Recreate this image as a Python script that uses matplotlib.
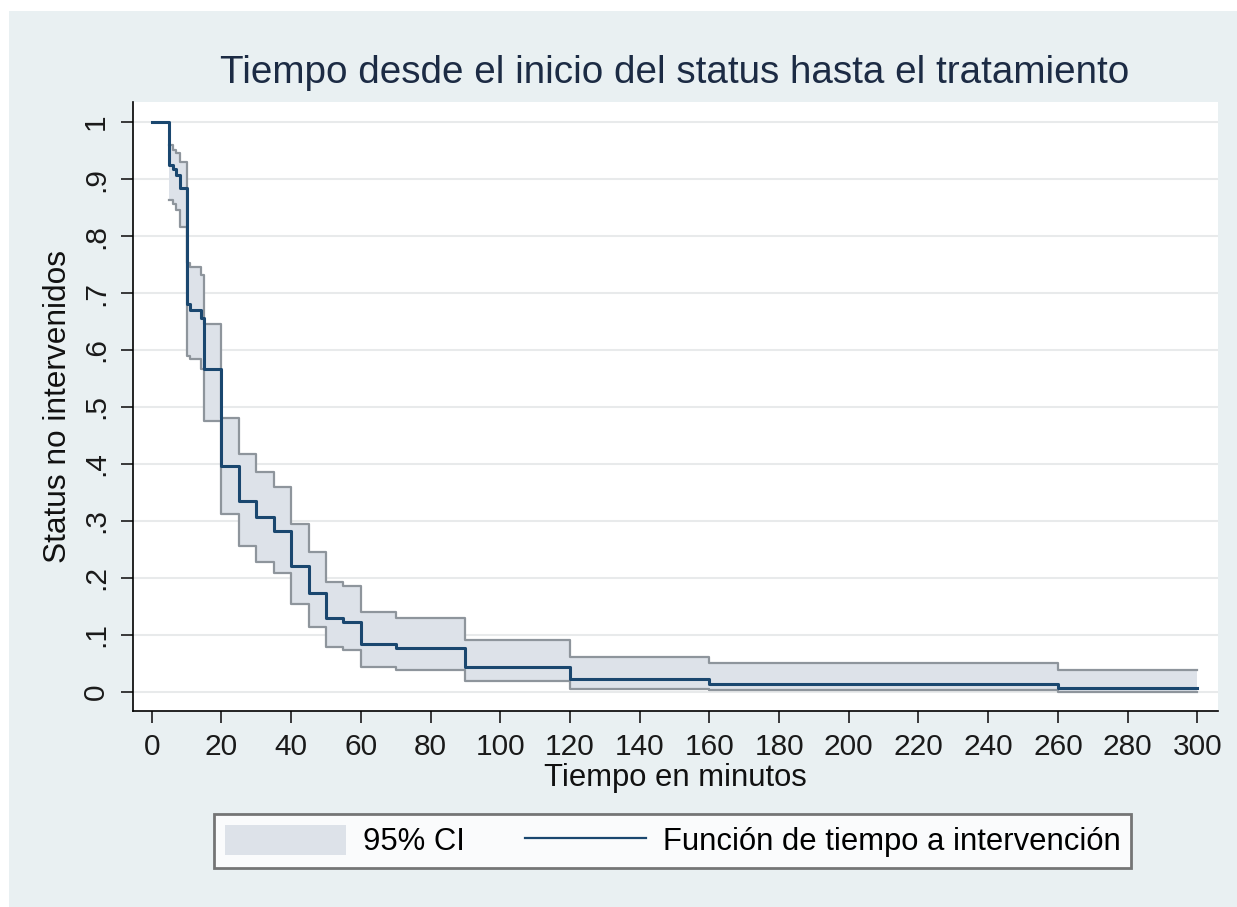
import numpy as np
import matplotlib
matplotlib.use('Agg')
import matplotlib.pyplot as plt
from matplotlib.patches import Patch, Rectangle
from matplotlib.lines import Line2D

plt.rcParams['font.family'] = ['Liberation Sans', 'DejaVu Sans']

# Kaplan-Meier: tiempo (min) y supervivencia estimada
tiempo = [0, 5, 6, 7, 8, 10, 11, 14, 15, 20, 25, 30, 35, 40, 45, 50, 55, 60, 70, 90, 120, 160, 260, 300]
superv = [1.0, 0.924, 0.918, 0.908, 0.885, 0.680, 0.671, 0.656, 0.566, 0.397, 0.334, 0.306, 0.282,
          0.221, 0.174, 0.129, 0.122, 0.083, 0.076, 0.044, 0.022, 0.014, 0.006, 0.006]

# intervalo de confianza 95% (empieza en t=5)
t_ic = [5, 6, 7, 8, 10, 11, 14, 15, 20, 25, 30, 35, 40, 45, 50, 55, 60, 70, 90, 120, 160, 260, 300]
ic_sup = [0.960, 0.952, 0.945, 0.930, 0.752, 0.746, 0.731, 0.645, 0.480, 0.417, 0.385, 0.360, 0.294,
          0.245, 0.193, 0.185, 0.139, 0.129, 0.091, 0.060, 0.050, 0.038, 0.038]
ic_inf = [0.864, 0.857, 0.845, 0.816, 0.590, 0.585, 0.566, 0.475, 0.312, 0.255, 0.227, 0.208, 0.154,
          0.114, 0.078, 0.073, 0.044, 0.038, 0.018, 0.005, 0.002, 0.000, 0.000]

xticks = list(range(0, 301, 20))
yticks = [0, 0.1, 0.2, 0.3, 0.4, 0.5, 0.6, 0.7, 0.8, 0.9, 1.0]
ylabels = ['0', '.1', '.2', '.3', '.4', '.5', '.6', '.7', '.8', '.9', '1']

navy = '#1a476f'
ci_fill = '#dde2e9'
ci_edge = '#8e959c'
fondo = '#e9f0f2'

fig = plt.figure(figsize=(12.37, 9.07), dpi=100, facecolor='white')
# fondo gris azulado con margen blanco arriba/izquierda
fig.patches.append(Rectangle((9 / 1237, 0), 1, 1 - 11 / 907, transform=fig.transFigure,
                             facecolor=fondo, edgecolor='none', zorder=-10))

ax = fig.add_axes([0.1073, 0.2161, 0.8774, 0.6718])
ax.set_facecolor('white')

ax.fill_between(t_ic, ic_inf, ic_sup, step='post', facecolor=ci_fill, edgecolor='none', zorder=2)
ax.step(t_ic, ic_sup, where='post', color=ci_edge, lw=1.6, zorder=3)
ax.step(t_ic, ic_inf, where='post', color=ci_edge, lw=1.6, zorder=3)
ax.step(tiempo, superv, where='post', color=navy, lw=2.2, zorder=4)

ax.set_xlim(-5.45, 305.96)
ax.set_ylim(-0.034, 1.036)
ax.set_xticks(xticks)
ax.set_yticks(yticks)
ax.set_yticklabels(ylabels, rotation=90, va='center')
ax.grid(axis='y', color='#e8eaeb', lw=1.5, zorder=0)
ax.set_axisbelow(True)

for s in ['top', 'right']:
    ax.spines[s].set_visible(False)
for s in ['left', 'bottom']:
    ax.spines[s].set_color('black')
    ax.spines[s].set_linewidth(1.2)
ax.tick_params(axis='both', length=8.5, width=1.2, colors='#1a1a1a', labelsize=21.5)
ax.tick_params(axis='y', pad=8)
ax.tick_params(axis='x', pad=7)

ax.set_xlabel('Tiempo en minutos', fontsize=22.3, color='#111111', labelpad=2)
ax.set_ylabel('Status no intervenidos', fontsize=22.8, color='#111111', labelpad=6)

fig.text(0.545, 1 - 73 / 907, 'Tiempo desde el inicio del status hasta el tratamiento',
         ha='center', va='center', fontsize=27.8, color='#1c2b44')

handles = [Patch(facecolor=ci_fill, edgecolor='none'),
           Line2D([0], [0], color=navy, lw=1.6)]
leg = fig.legend(handles, ['95% CI', 'Función de tiempo a intervención'],
                 loc='center', bbox_to_anchor=(0.544, 1 - 841 / 907), ncol=2,
                 fontsize=22.3, frameon=True, fancybox=False, edgecolor='#555555',
                 handlelength=3.9, handleheight=1.1, handletextpad=0.55,
                 columnspacing=1.94, borderpad=0.35, borderaxespad=0)
leg.get_frame().set_linewidth(2)
leg.get_frame().set_facecolor('white')

fig.savefig('out.png', dpi=100, facecolor=fig.get_facecolor())
